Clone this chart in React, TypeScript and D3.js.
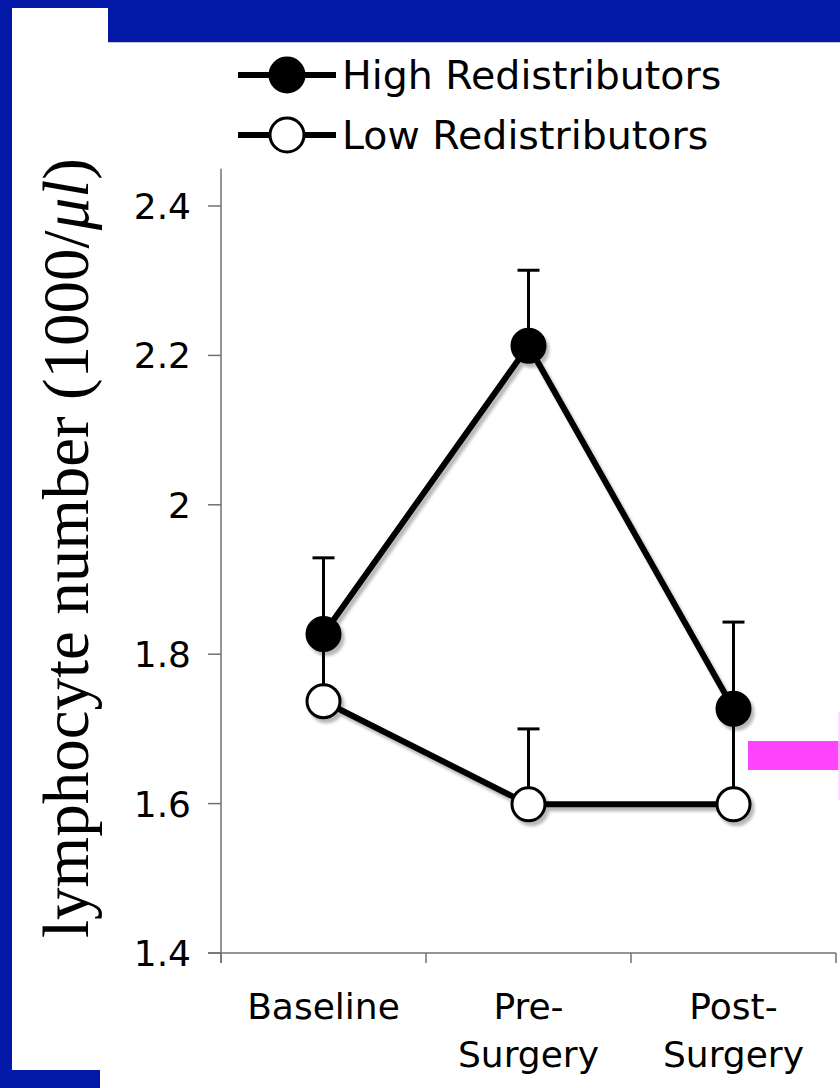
import React from "react";
import * as d3 from "d3";

const categories = ["Baseline", "Pre-Surgery", "Post-Surgery"];
const categoryLines = [["Baseline"], ["Pre-", "Surgery"], ["Post-", "Surgery"]];
const highMeans = [1.827, 2.213, 1.727];
const highErrTop = [1.929, 2.314, 1.843];
const lowMeans = [1.737, 1.599, 1.599];
const lowErrTop = [1.815, 1.7, 1.715];
const yTicks = [1.4, 1.6, 1.8, 2, 2.2, 2.4];
const legendNames = ["High Redistributors", "Low Redistributors"];

const W = 840;
const H = 1088;
const blue = "#0519a8";

const App = () => {
    const x = d3.scaleBand().domain(categories).range([221, 836]);
    const y = d3.scaleLinear().domain([1.4, 2.4]).range([953, 206]);
    const cx = (c: string) => (x(c) as number) + x.bandwidth() / 2;

    const line = d3
        .line<number>()
        .x((_, i) => cx(categories[i]))
        .y((d) => y(d));

    const series = [
        { means: highMeans, err: highErrTop, fill: "black" },
        { means: lowMeans, err: lowErrTop, fill: "white" },
    ];

    return (
        <div style={{ position: "absolute", left: 0, top: 0 }}>
            <svg width={W} height={H} style={{ display: "block", background: "white" }}>
                <defs>
                    <filter id="shadow" x="-20%" y="-20%" width="140%" height="140%">
                        <feDropShadow dx={3} dy={4} stdDeviation={1.5} floodColor="#000" floodOpacity={0.28} />
                    </filter>
                </defs>

                {/* blue frame */}
                <rect x={0} y={0} width={12} height={H} fill={blue} />
                <rect x={0} y={0} width={W} height={8} fill={blue} />
                <rect x={108} y={0} width={W - 108} height={42} fill={blue} />
                <line x1={108} y1={42.5} x2={W} y2={42.5} stroke="#c8c8d8" strokeWidth={1} />
                <rect x={0} y={1070} width={100} height={18} fill={blue} />

                {/* magenta marker */}
                <rect x={748} y={741} width={92} height={29} fill="#ff44ff" />
                <line x1={839} y1={712} x2={839} y2={800} stroke="#fbd0fb" strokeWidth={1.5} />

                {/* y axis */}
                <line x1={221} y1={y(2.45)} x2={221} y2={963} stroke="#707070" strokeWidth={1.5} />
                {yTicks.map((t) => (
                    <g key={t}>
                        <line x1={208} y1={y(t)} x2={221} y2={y(t)} stroke="#707070" strokeWidth={1.5} />
                        <text
                            x={191}
                            y={y(t)}
                            dy="0.36em"
                            textAnchor="end"
                            fontFamily="DejaVu Sans"
                            fontSize={36}
                            fill="black"
                        >
                            {d3.format("")(t)}
                        </text>
                    </g>
                ))}

                {/* x axis */}
                <line x1={208} y1={y(1.4)} x2={836} y2={y(1.4)} stroke="#707070" strokeWidth={1.5} />
                {[...categories.map((c) => x(c) as number), 836].map((v, i) => (
                    <line key={i} x1={v} y1={y(1.4)} x2={v} y2={963} stroke="#707070" strokeWidth={1.5} />
                ))}
                {categories.map((c, i) => (
                    <text
                        key={c}
                        x={cx(c)}
                        y={1019}
                        textAnchor="middle"
                        fontFamily="DejaVu Sans"
                        fontSize={36}
                        fill="black"
                    >
                        {categoryLines[i].map((s, j) => (
                            <tspan key={j} x={cx(c)} dy={j === 0 ? 0 : 48}>
                                {s}
                            </tspan>
                        ))}
                    </text>
                ))}

                {/* y axis title */}
                <text
                    transform={`translate(88,548) rotate(-90)`}
                    textAnchor="middle"
                    fontFamily="Liberation Serif"
                    fontSize={65}
                    fill="black"
                >
                    lymphocyte number (1000/<tspan fontStyle="italic">μl</tspan>)
                </text>

                {/* error bars */}
                {series.map((s, si) =>
                    categories.map((c, i) => (
                        <g key={`${si}-${i}`} stroke="black" strokeWidth={3}>
                            <line x1={cx(c)} y1={y(s.means[i])} x2={cx(c)} y2={y(s.err[i])} />
                            <line x1={cx(c) - 11} y1={y(s.err[i])} x2={cx(c) + 11} y2={y(s.err[i])} />
                        </g>
                    ))
                )}

                {/* lines and markers */}
                <g filter="url(#shadow)">
                    {series.map((s, si) => (
                        <path key={si} d={line(s.means) as string} fill="none" stroke="black" strokeWidth={6} />
                    ))}
                    {series.map((s, si) =>
                        categories.map((c, i) => (
                            <circle
                                key={`${si}-${i}`}
                                cx={cx(c)}
                                cy={y(s.means[i])}
                                r={16.5}
                                fill={s.fill}
                                stroke="black"
                                strokeWidth={3}
                            />
                        ))
                    )}
                </g>

                {/* legend */}
                {legendNames.map((name, i) => (
                    <g key={name} transform={`translate(0,${75 + i * 60})`}>
                        <line x1={238} y1={0} x2={336} y2={0} stroke="black" strokeWidth={6} />
                        <circle cx={287} cy={0} r={17} fill={series[i].fill} stroke="black" strokeWidth={3} />
                        <text x={342} y={0} dy="0.36em" fontFamily="DejaVu Sans" fontSize={39.5} fill="black">
                            {name}
                        </text>
                    </g>
                ))}
            </svg>
        </div>
    );
};

export default App;
